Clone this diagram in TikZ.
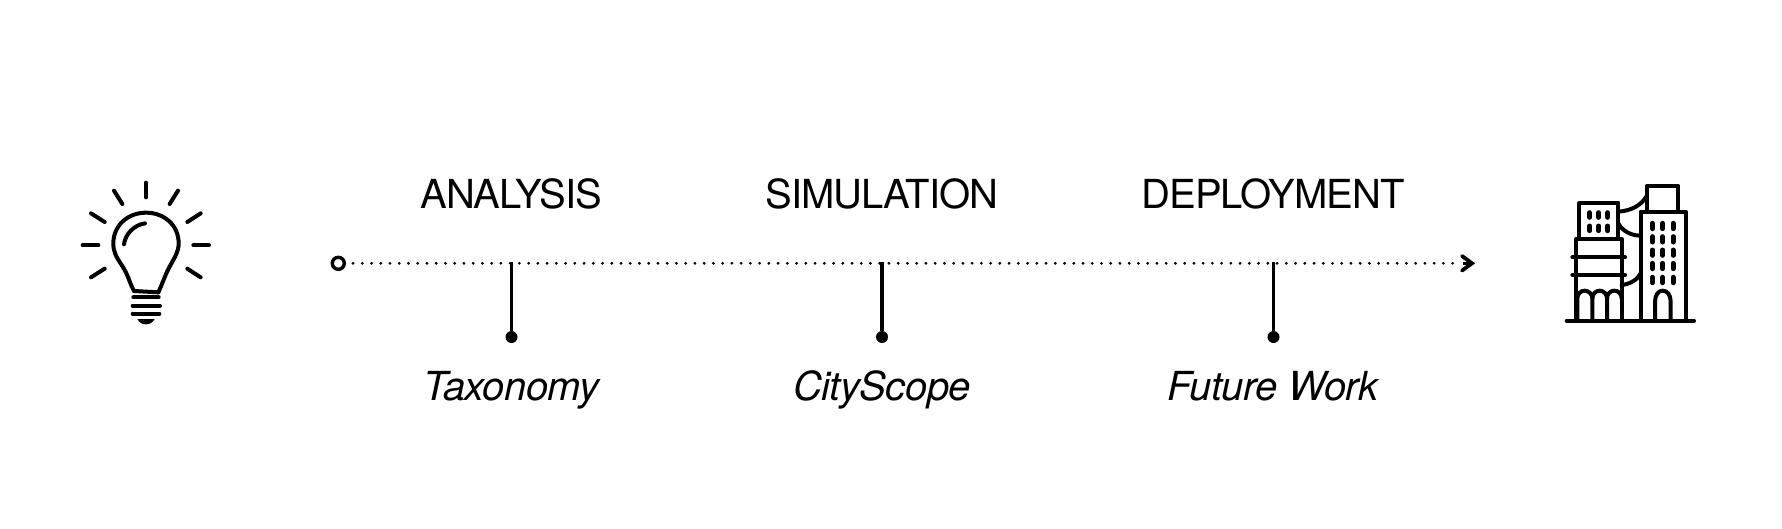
\documentclass[tikz,border=0pt]{standalone}
\usepackage{fontspec}
\setmainfont{TeX Gyre Heros}
\usetikzlibrary{arrows.meta}
\newfontfamily\capsfont[LetterSpace=-2.4]{TeX Gyre Heros}
\newfontfamily\slantfont[LetterSpace=-1.4,ItalicFont={TeX Gyre Heros Italic}]{TeX Gyre Heros}
\tikzset{
  head/.style={anchor=base,inner sep=0pt,font=\fontsize{40}{44}\selectfont\capsfont},
  sub/.style={anchor=base,inner sep=0pt,font=\fontsize{40}{44}\selectfont\slantfont\itshape},
  stem/.style={line width=3.4pt},
  bead/.style={circle,fill=black,minimum size=12pt,inner sep=0pt},
  ring/.style={circle,draw=black,fill=white,line width=3.4pt,minimum size=12pt,inner sep=0pt},
  icon/.style={line width=4pt,line cap=round,line join=round},
  pane/.style={line width=5pt,line cap=round},
  dotline/.style={line width=3.1pt,line cap=round,dash pattern=on 0pt off 9.24pt,dash phase=2.2pt},
}
\begin{document}
\begin{tikzpicture}[x=1pt,y=-1pt]
\useasboundingbox (0,0) rectangle (1782,528);
% axis
\node[ring] (start) at (338.3,263.3) {};
\coordinate (end) at (1472,263.3);
\coordinate (a1) at (511.5,262);
\coordinate (a2) at (882,262);
\coordinate (a3) at (1273.5,262);
\draw[dotline] (start.east) -- (1457,263.3);
\draw[line width=3.8pt,line cap=round,line join=miter] (1462,256) -- (end) -- (1462,270.6);
\draw[line width=3pt] (1463,263.3) -- (end);
\node[bead] (b1) at (511.5,337) {};
\node[bead] (b2) at (882,337) {};
\node[bead] (b3) at (1273.5,337) {};
\draw[stem] (a1) -- (b1);
\draw[stem] (a2) -- (b2);
\draw[stem] (a3) -- (b3);
% labels
\node[head] (h1) at (511.3,208) {ANALYSIS};
\node[head] (h2) at (882,208) {SIMULATION};
\node[head] (h3) at (1273,208) {DEPLOYMENT};
\node[sub] (s1) at (511.3,400.5) {Taxonomy};
\node[sub] (s2) at (882,400.5) {CityScope};
\node[sub] (s3) at (1273,400.5) {Future Work};
% bulb
\begin{scope}[shift={(60,160)},x=0.33333pt,y=-0.33333pt]
\draw[icon] (222,393) -- (295,397);
\draw[icon] (222,393) .. controls (207,365) and (205,345) .. (185,315)
  .. controls (168,290) and (160,275) .. (160,250)
  .. controls (160,195) and (205,158) .. (258,158)
  .. controls (312,158) and (356,195) .. (356,250)
  .. controls (356,275) and (345,290) .. (330,318)
  .. controls (315,345) and (310,365) .. (295,397);
\draw[icon] (192,253) .. controls (195,225) and (220,195) .. (255,190);
\draw[icon] (258,68) -- (258,112);
\draw[icon] (162,92) -- (187,132);
\draw[icon] (354,92) -- (329,132);
\draw[icon] (93,160) -- (134,186);
\draw[icon] (422,160) -- (382,186);
\draw[icon] (68,256) -- (115,256);
\draw[icon] (400,256) -- (447,256);
\draw[icon] (93,352) -- (134,326);
\draw[icon] (422,352) -- (382,326);
\draw[icon] (220,412) -- (296,412);
\draw[icon] (218,437) -- (300,437);
\draw[icon] (218,461) -- (298,461);
\fill (232,477) -- (284,477) .. controls (278,490) and (265,493) .. (258,493) .. controls (250,493) and (238,490) .. (232,477) -- cycle;
\end{scope}
% city
\begin{scope}[shift={(1540,170)},x=0.33333pt,y=-0.33333pt]
\draw[icon] (80,452) -- (462,452);
\draw[icon] (118,205) -- (118,98) -- (235,98) -- (235,205);
\draw[icon] (107,452) -- (107,207) -- (245,207) -- (245,452);
\draw[icon] (97,262) -- (255,262);
\draw[icon] (97,315) -- (255,315);
\draw[icon] (112,452) -- (112,385) .. controls (112,372) and (122,362) .. (134,362) .. controls (146,362) and (157,372) .. (157,385) -- (157,452);
\draw[icon] (157,385) .. controls (157,372) and (167,362) .. (179,362) .. controls (191,362) and (201,372) .. (201,385) -- (201,452);
\draw[icon] (201,385) .. controls (201,372) and (211,362) .. (223,362) .. controls (235,362) and (245,372) .. (245,385);
\draw[icon] (302,452) -- (302,125) -- (437,125) -- (437,452);
\draw[icon] (320,125) -- (320,48) -- (415,48) -- (415,125);
\draw[icon] (345,452) -- (345,395) .. controls (345,375) and (355,362) .. (368,362) .. controls (382,362) and (392,375) .. (392,395) -- (392,452);
\draw[icon] (235,125) .. controls (275,122) and (305,105) .. (320,78);
\draw[icon] (235,160) .. controls (245,180) and (270,197) .. (302,197);
\draw[icon] (245,345) .. controls (270,342) and (292,330) .. (302,310);
\foreach \x in {149,176,203}\foreach \y in {135,175}{\draw[pane] (\x,\y-7) -- (\x,\y+7);}
\foreach \x in {337,368,399}\foreach \y in {168,208,248,288,330}{\draw[pane] (\x,\y-8) -- (\x,\y+8);}
\end{scope}
\end{tikzpicture}
\end{document}
